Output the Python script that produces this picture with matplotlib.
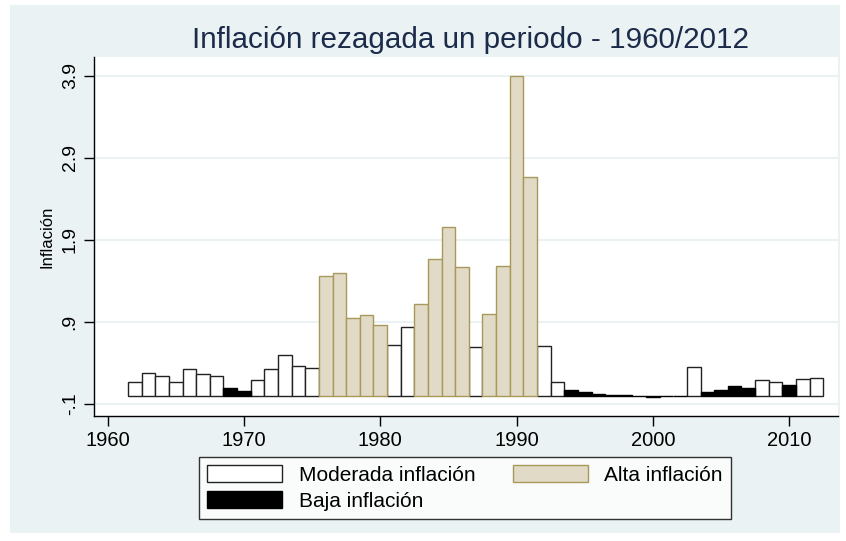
import matplotlib.pyplot as plt
from matplotlib.patches import Patch, Rectangle

plt.rcParams['font.family'] = ['Liberation Sans', 'DejaVu Sans']

years = list(range(1962, 2013))
inflacion = [0.16, 0.28, 0.24, 0.16, 0.32, 0.26, 0.24, 0.09, 0.06, 0.19,
             0.32, 0.50, 0.36, 0.33, 1.46, 1.49, 0.95, 0.98, 0.86, 0.62,
             0.83, 1.12, 1.66, 2.05, 1.57, 0.59, 1.00, 1.58, 3.90, 2.66,
             0.60, 0.16, 0.07, 0.04, 0.02, 0.01, 0.005, 0.0, -0.02, -0.01,
             -0.01, 0.35, 0.04, 0.065, 0.12, 0.095, 0.19, 0.17, 0.13, 0.20,
             0.21]
# M = moderada, A = alta, B = baja
grupo = list("MMMMMMMBBMMMMMAAAAAMMAAAAMAAAAMMBBBBBBBBBMBBBBMMBMM")

estilos = {
    'M': dict(color='white', edgecolor='#222222', label='Moderada inflación'),
    'A': dict(color='#E1DAC6', edgecolor='#A8985A', label='Alta inflación'),
    'B': dict(color='black', edgecolor='black', label='Baja inflación'),
}

fig = plt.figure(figsize=(8.46, 5.41), dpi=100, facecolor='white')
fig.patches.append(Rectangle((10 / 846, 1 - 533 / 541), 830 / 846, 528 / 541,
                             transform=fig.transFigure, facecolor='#EAF2F3',
                             edgecolor='none', zorder=-10))

ax = fig.add_axes([94 / 846, 1 - 416 / 541, (838 - 94) / 846, (416 - 57) / 541])
ax.set_facecolor('white')

for g, st in estilos.items():
    xs = [y for y, k in zip(years, grupo) if k == g]
    vs = [v for v, k in zip(inflacion, grupo) if k == g]
    ax.bar(xs, vs, width=1.0, color=st['color'], edgecolor=st['edgecolor'],
           linewidth=1.0, zorder=3)

ax.set_xlim(1959.0, 2013.58)
ax.set_ylim(-0.25, 4.13)
yt = [-0.1, 0.9, 1.9, 2.9, 3.9]
ax.set_yticks(yt)
ax.set_yticklabels(['-.1', '.9', '1.9', '2.9', '3.9'], rotation=90, va='center',
                   fontsize=14)
ax.set_xticks([1960, 1970, 1980, 1990, 2000, 2010])
ax.tick_params(axis='x', labelsize=14.5, length=7, width=1, pad=4)
ax.tick_params(axis='y', length=7, width=1, pad=4)
for v in yt:
    ax.axhline(v, color='#EAF2F3', linewidth=1.5, zorder=1)

for s in ['top', 'right']:
    ax.spines[s].set_visible(False)
for s in ['left', 'bottom']:
    ax.spines[s].set_linewidth(1.0)
    ax.spines[s].set_color('black')

ax.set_ylabel('Inflación', fontsize=12, labelpad=5)
fig.text(470 / 846, 1 - 40 / 541, 'Inflación rezagada un periodo - 1960/2012',
         ha='center', va='center', fontsize=21.3, color='#1C2B4A')

handles = [Patch(facecolor=estilos[k]['color'], edgecolor=estilos[k]['edgecolor'],
                 label=estilos[k]['label']) for k in ['M', 'B', 'A']]
leg = fig.legend(handles=handles, ncol=2, loc='center',
                 bbox_to_anchor=(465 / 846, 1 - 488 / 541), fontsize=15,
                 frameon=True, fancybox=False, edgecolor='black',
                 handlelength=3.6, handleheight=0.9, columnspacing=1.8,
                 borderpad=0.4, labelspacing=0.3, handletextpad=0.8)
leg.get_frame().set_linewidth(1.0)

fig.savefig('out.png', dpi=100, facecolor='white')
